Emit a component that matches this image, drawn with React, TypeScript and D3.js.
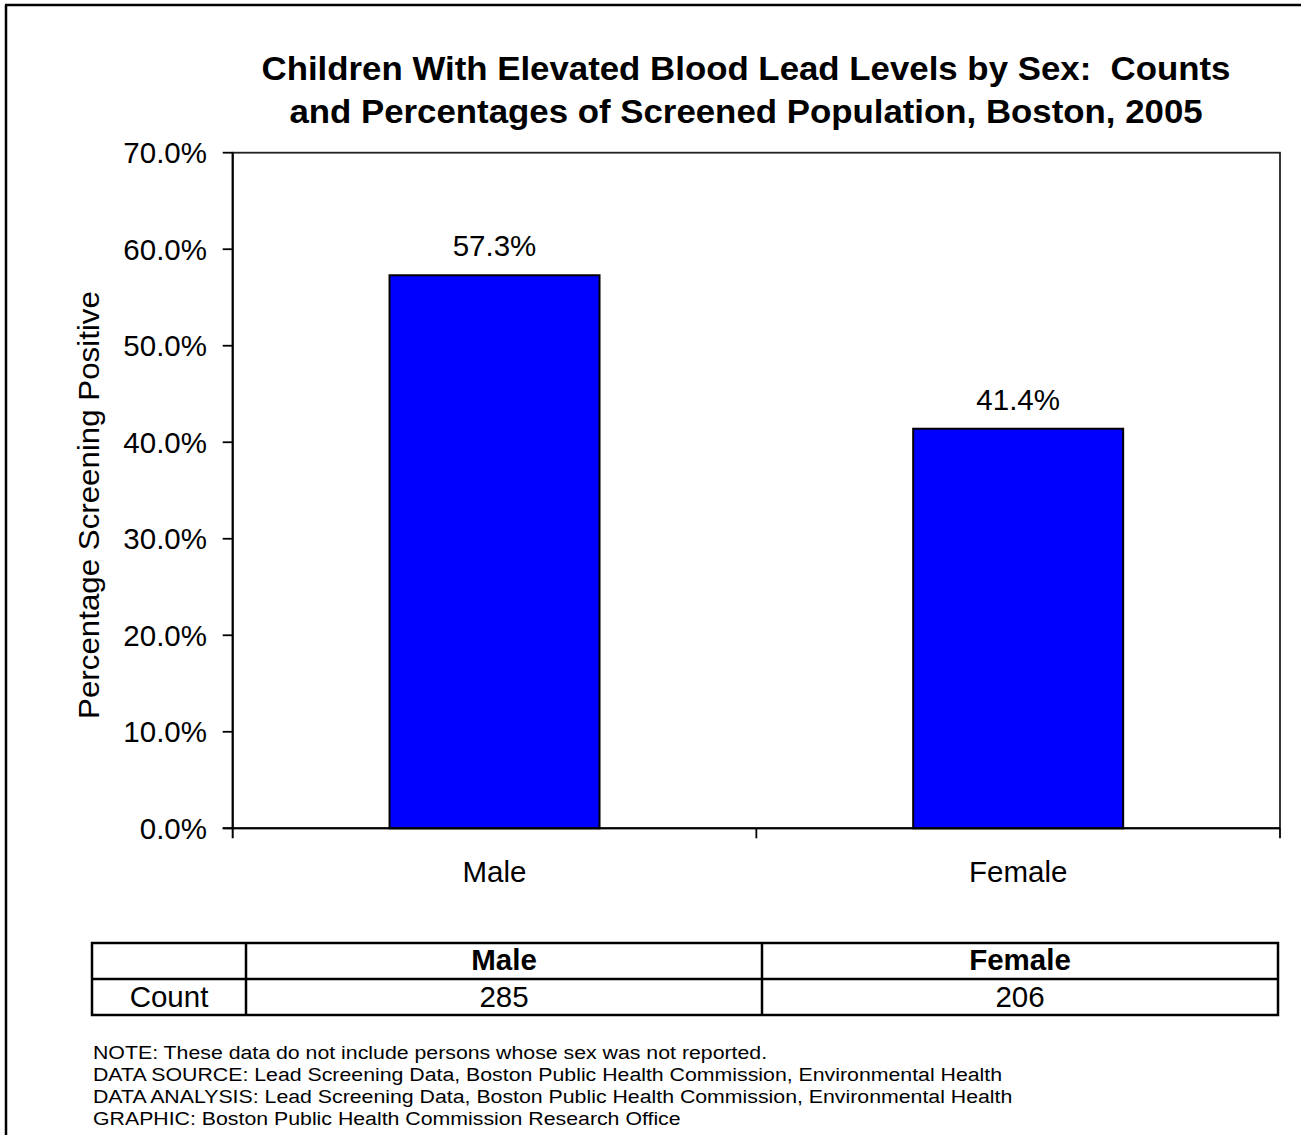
import React from "react";
import * as d3 from "d3";

const categories = ["Male", "Female"];
const percentages = [57.3, 41.4];
const counts = [285, 206];
const yTicks = [0, 10, 20, 30, 40, 50, 60, 70];
const titleLines = [
  "Children With Elevated Blood Lead Levels by Sex:  Counts",
  "and Percentages of Screened Population, Boston, 2005",
];
const yAxisTitle = "Percentage Screening Positive";
const tableRowLabel = "Count";
const footerLines = [
  "NOTE: These data do not include persons whose sex was not reported.",
  "DATA SOURCE: Lead Screening Data, Boston Public Health Commission, Environmental Health",
  "DATA ANALYSIS: Lead Screening Data, Boston Public Health Commission, Environmental Health",
  "GRAPHIC: Boston Public Health Commission Research Office",
];

const FONT = "Arial, 'Liberation Sans', Helvetica, sans-serif";

export default function App() {
  const W = 1301;
  const H = 1135;
  const plot = { left: 232.7, right: 1280, top: 152.7, bottom: 828.3 };

  const x = d3.scaleBand<string>().domain(categories).range([plot.left, plot.right]).padding(0);
  const y = d3.scaleLinear().domain([0, 70]).range([plot.bottom, plot.top]);
  const fmt = (v: number) => d3.format(".1f")(v) + "%";
  const barW = x.bandwidth() * 0.401;

  const table = { left: 92, right: 1278, top: 943, mid: 979, bottom: 1015, labelCol: 246 };
  const tx = d3.scaleBand<string>().domain(categories).range([table.labelCol, table.right]).padding(0);

  return (
    <div style={{ position: "absolute", left: 0, top: 0 }}>
      <svg width={W} height={H} style={{ display: "block", background: "#fff" }} fontFamily={FONT}>
        <rect x={0} y={0} width={W} height={H} fill="#fff" />
        {/* outer border */}
        <line x1={6} y1={5} x2={6} y2={H} stroke="#000" strokeWidth={2.5} />
        <line x1={5} y1={5} x2={W} y2={5} stroke="#000" strokeWidth={2.5} />

        {/* title */}
        {titleLines.map((t, i) => (
          <g key={i} transform={`translate(746, ${80 + i * 43}) scale(1.075, 1)`}>
            <text
              x={0}
              y={0}
              textAnchor="middle"
              fontSize={32.4}
              fontWeight="bold"
              fill="#000"
              style={{ whiteSpace: "pre" }}
            >
              {t}
            </text>
          </g>
        ))}

        {/* plot area border */}
        <rect
          x={plot.left}
          y={plot.top}
          width={plot.right - plot.left}
          height={plot.bottom - plot.top}
          fill="none"
          stroke="#222"
          strokeWidth={1.8}
        />

        {/* bars */}
        {categories.map((c, i) => {
          const cx = (x(c) as number) + x.bandwidth() / 2;
          return (
            <g key={c}>
              <rect
                x={cx - barW / 2}
                y={y(percentages[i])}
                width={barW}
                height={y(0) - y(percentages[i])}
                fill="#0000FF"
                stroke="#000"
                strokeWidth={2}
              />
              <text x={cx} y={y(percentages[i]) - 19} textAnchor="middle" fontSize={29.5} fill="#000">
                {fmt(percentages[i])}
              </text>
              <text x={cx} y={881.5} textAnchor="middle" fontSize={29.5} fill="#000">
                {c}
              </text>
            </g>
          );
        })}

        {/* y axis */}
        <line x1={plot.left} y1={plot.top} x2={plot.left} y2={plot.bottom + 10} stroke="#000" strokeWidth={2} />
        {yTicks.map((t) => (
          <g key={t}>
            <line x1={plot.left - 10} y1={y(t)} x2={plot.left} y2={y(t)} stroke="#000" strokeWidth={1.8} />
            <text x={207} y={y(t) + 10.5} textAnchor="end" fontSize={29.5} fill="#000">
              {fmt(t)}
            </text>
          </g>
        ))}

        {/* x axis */}
        <line x1={plot.left - 10} y1={plot.bottom} x2={plot.right} y2={plot.bottom} stroke="#000" strokeWidth={2} />
        {categories.map((c) => {
          const edge = (x(c) as number) + x.bandwidth();
          return <line key={c} x1={edge} y1={plot.bottom} x2={edge} y2={plot.bottom + 10} stroke="#000" strokeWidth={1.8} />;
        })}

        {/* y axis title */}
        <g transform={`translate(99, 505) rotate(-90) scale(1.04, 1)`}>
          <text x={0} y={0} textAnchor="middle" fontSize={30.1} fill="#000">
            {yAxisTitle}
          </text>
        </g>

        {/* data table */}
        <rect
          x={table.left}
          y={table.top}
          width={table.right - table.left}
          height={table.bottom - table.top}
          fill="none"
          stroke="#000"
          strokeWidth={2.5}
        />
        <line x1={table.left} y1={table.mid} x2={table.right} y2={table.mid} stroke="#000" strokeWidth={2.5} />
        <line x1={table.labelCol} y1={table.top} x2={table.labelCol} y2={table.bottom} stroke="#000" strokeWidth={2.5} />
        {categories.map((c, i) => {
          const left = tx(c) as number;
          const cx = left + tx.bandwidth() / 2;
          return (
            <g key={c}>
              {i > 0 && (
                <line x1={left} y1={table.top} x2={left} y2={table.bottom} stroke="#000" strokeWidth={2.5} />
              )}
              <text x={cx} y={970} textAnchor="middle" fontSize={29.5} fontWeight="bold" fill="#000">
                {c}
              </text>
              <text x={cx} y={1007} textAnchor="middle" fontSize={29.5} fill="#000">
                {d3.format("d")(counts[i])}
              </text>
            </g>
          );
        })}
        <text x={(table.left + table.labelCol) / 2} y={1007} textAnchor="middle" fontSize={29.5} fill="#000">
          {tableRowLabel}
        </text>

        {/* footer */}
        {footerLines.map((t, i) => (
          <g key={i} transform={`translate(93, ${1059 + i * 22}) scale(1.2, 1)`}>
            <text x={0} y={0} fontSize={17.75} fill="#000">
              {t}
            </text>
          </g>
        ))}
      </svg>
    </div>
  );
}
